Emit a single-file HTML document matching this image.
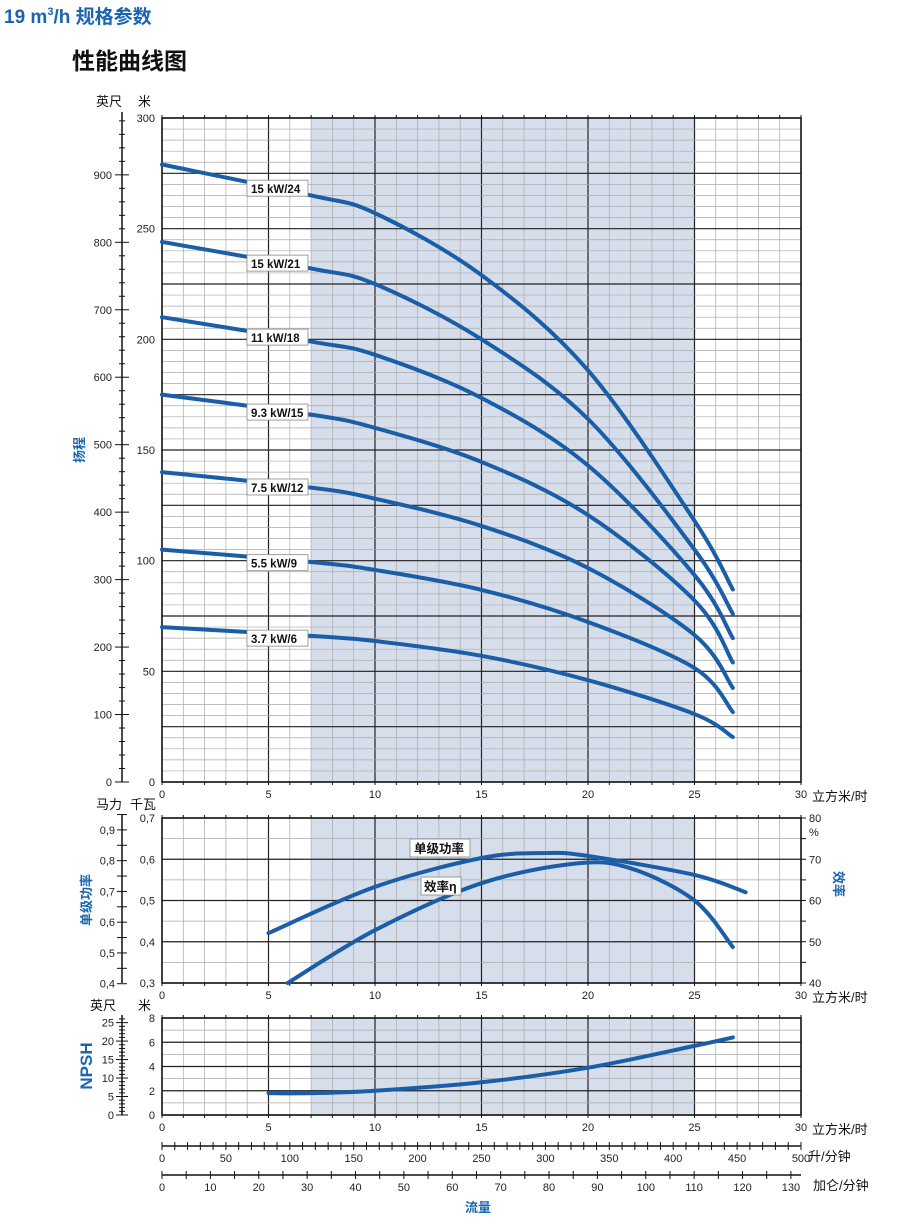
<!DOCTYPE html>
<html><head><meta charset="utf-8">
<style>
body{margin:0;background:#fff;}
svg{display:block;font-family:"Liberation Sans","Noto Sans CJK SC",sans-serif;}
</style></head>
<body>
<svg id="c" width="900" height="1226" viewBox="0 0 900 1226" xmlns="http://www.w3.org/2000/svg">
<text x="4" y="23" font-size="19" font-weight="bold" fill="#1a64b0">19 m<tspan font-size="11" dy="-8">3</tspan><tspan dy="8">/h 规格参数</tspan></text>
<text x="72" y="69" font-size="23" font-weight="bold" fill="#111">性能曲线图</text>
<g id="g"></g>
</svg>
<script>
// ---- data ----
const flowPts = [0, 7, 10, 15, 20, 25, 26.8];
const headLabels = ["15 kW/24","15 kW/21","11 kW/18","9.3 kW/15","7.5 kW/12","5.5 kW/9","3.7 kW/6"];
const head24 = [279, 265, 257, 229, 186, 118, 87];
const head21 = [244, 232, 225, 200, 164, 105, 76];
const head18 = [210, 199, 193, 173.5, 143, 93.5, 65];
const head15 = [175, 166, 160, 144.6, 120.6, 82, 54];
const head12 = [140, 133, 128, 115.7, 96.7, 66.4, 42.5];
const head9 = [105, 99.4, 95.8, 86.8, 72.3, 51.5, 31.6];
const head6 = [70, 66, 63.7, 57, 46, 30.7, 20.3];
const powerFlow = [5, 10, 15, 18, 20, 25, 27.4];
const powerKw = [0.421, 0.533, 0.603, 0.615, 0.608, 0.562, 0.52];
const effFlow = [5.9, 10, 15, 19.5, 22, 25, 26.8];
const effPct = [40, 52.8, 64.2, 69, 67.8, 60, 48.7];
const npshFlow = [5, 7, 10, 15, 20, 25, 26.8];
const npshM = [1.8, 1.8, 2.0, 2.7, 3.9, 5.7, 6.4];
const xTicks = [0,5,10,15,20,25,30];
const headTicks = [0,50,100,150,200,250,300];
const ftTicks = [0,100,200,300,400,500,600,700,800,900];
const kwTicks = ["0,3","0,4","0,5","0,6","0,7"];
const hpTicks = ["0,4","0,5","0,6","0,7","0,8","0,9"];
const effTicks = [40,50,60,70,80];
const npshTicks = [0,2,4,6,8];
const npshFtTicks = [0,5,10,15,20,25];
const lpmTicks = [0,50,100,150,200,250,300,350,400,450,500];
const gpmTicks = [0,10,20,30,40,50,60,70,80,90,100,110,120,130];

// ---- helpers ----
const NS="http://www.w3.org/2000/svg";
const G=document.getElementById('g');
function el(t,a,p){const e=document.createElementNS(NS,t);for(const k in a)e.setAttribute(k,a[k]);(p||G).appendChild(e);return e;}
function txt(x,y,s,a){const e=el('text',Object.assign({x:x,y:y,'font-size':11,fill:'#222'},a||{}));e.textContent=s;return e;}
const X0=162,X1=801;
const sx=v=>X0+(v/30)*(X1-X0);
function smooth(pts){let d='M'+pts[0][0]+','+pts[0][1];
 for(let i=0;i<pts.length-1;i++){const p0=pts[i-1]||pts[i],p1=pts[i],p2=pts[i+1],p3=pts[i+2]||p2;
  d+=' C'+(p1[0]+(p2[0]-p0[0])/6)+','+(p1[1]+(p2[1]-p0[1])/6)+' '+(p2[0]-(p3[0]-p1[0])/6)+','+(p2[1]-(p3[1]-p1[1])/6)+' '+p2[0]+','+p2[1];}
 return d;}
function curve(xs,ys,sy,name){const p=el('path',{d:smooth(xs.map((v,i)=>[sx(v),sy(ys[i])])),fill:'none',stroke:'#1a5ea8','stroke-width':4,'stroke-linecap':'round'});
 return p;}
function panel(yTop,yBot,minorVals,majorVals,sy,name){
 const g=el('g',{});
 el('rect',{x:sx(7),y:yTop,width:sx(25)-sx(7),height:yBot-yTop,fill:'#d6deeb'},g);
 for(let v=0;v<=30;v++){const maj=v%5==0;el('line',{x1:sx(v),x2:sx(v),y1:yTop,y2:yBot,stroke:maj?'#222':'#aaa','stroke-width':maj?1.2:0.7},g);}
 minorVals.forEach(v=>el('line',{x1:X0,x2:X1,y1:sy(v),y2:sy(v),stroke:'#aaa','stroke-width':0.7},g));
 majorVals.forEach(v=>el('line',{x1:X0,x2:X1,y1:sy(v),y2:sy(v),stroke:'#222','stroke-width':1.2},g));
 el('rect',{x:X0,y:yTop,width:X1-X0,height:yBot-yTop,fill:'none',stroke:'#111','stroke-width':1.5},g);
 for(let v=0;v<=30;v++){el('line',{x1:sx(v),x2:sx(v),y1:yTop-3,y2:yTop,stroke:'#111'},g);el('line',{x1:sx(v),x2:sx(v),y1:yBot,y2:yBot+3,stroke:'#111'},g);}
 xTicks.forEach(v=>{const t=txt(sx(v),yBot+16,String(v),{'text-anchor':'middle'});});
 const u=txt(812,yBot+19,'立方米/时',{'font-size':13,fill:'#111'});
 return g;}
function range(a,b,s){const r=[];for(let v=a;v<=b+1e-9;v+=s)r.push(+v.toFixed(4));return r;}

// ---- head panel ----
const hy=v=>782-(v/300)*(782-118);
panel(118,782,range(0,300,5),range(0,300,25),hy,'head-panel');
headTicks.forEach(v=>txt(155,hy(v)+4,String(v),{'text-anchor':'end'}));
el('line',{x1:122,x2:122,y1:112,y2:782,stroke:'#111','stroke-width':1.5});
for(let f=0;f<=980;f+=20){const y=hy(f*0.3048);el('line',{x1:f%100==0?115:119,x2:f%100==0?129:125,y1:y,y2:y,stroke:'#111'});}
ftTicks.forEach(f=>txt(112,hy(f*0.3048)+4,String(f),{'text-anchor':'end'}));
txt(96,106,'英尺',{'font-size':13,fill:'#111'});txt(138,106,'米',{'font-size':13,fill:'#111'});
const heads=[head24,head21,head18,head15,head12,head9,head6];
heads.forEach((h,i)=>{curve(flowPts,h,hy,'head-curve-'+i);
 const yy=hy(h[0]+(h[1]-h[0])*(4/7))+8;
 const r=el('rect',{x:247,y:yy-10,width:61,height:16,fill:'#fff',stroke:'#888','stroke-width':0.8});
 
 const t=txt(251,yy+3,headLabels[i],{'font-size':11.5,'font-weight':'bold',fill:'#111'});
 });
txt(84,450,'扬程',{'font-size':13,'font-weight':'bold',fill:'#1a64b0',transform:'rotate(-90 84 450)','text-anchor':'middle'});

// ---- power / efficiency panel ----
const py=v=>983-((v-0.3)/0.4)*(983-818);
const ey=v=>983-((v-40)/40)*(983-818);
panel(818,983,range(0.3,0.7,0.05),range(0.3,0.7,0.1),py,'power-panel');
kwTicks.forEach((s,i)=>txt(155,py(0.3+i*0.1)+4,s,{'text-anchor':'end'}));
el('line',{x1:122,x2:122,y1:815,y2:983,stroke:'#111','stroke-width':1.5});
for(let h=0.4;h<=0.951;h+=0.05){const y=py(h*0.7457);el('line',{x1:117,x2:127,y1:y,y2:y,stroke:'#111'});}
hpTicks.forEach((s,i)=>txt(115,py((0.4+i*0.1)*0.7457)+4,s,{'text-anchor':'end'}));
txt(96,809,'马力',{'font-size':13,fill:'#111'});txt(130,809,'千瓦',{'font-size':13,fill:'#111'});
for(let e=40;e<=80;e+=5)el('line',{x1:801,x2:806,y1:ey(e),y2:ey(e),stroke:'#111'});
effTicks.forEach(v=>txt(809,ey(v)+4,String(v),{}));
txt(809,836,'%',{});
txt(834,884,'效率',{'font-size':13,'font-weight':'bold',fill:'#1a64b0',transform:'rotate(90 834 884)','text-anchor':'middle'});
txt(91,900,'单级功率',{'font-size':13,'font-weight':'bold',fill:'#1a64b0',transform:'rotate(-90 91 900)','text-anchor':'middle'});
curve(powerFlow,powerKw,py,'power-curve');
curve(effFlow,effPct,ey,'efficiency-curve');
el('rect',{x:410,y:839,width:60,height:18,fill:'#fff',stroke:'#888','stroke-width':0.8});
txt(414,853,'单级功率',{'font-size':12.5,'font-weight':'bold',fill:'#111'});
el('rect',{x:421,y:877,width:40,height:18,fill:'#fff',stroke:'#888','stroke-width':0.8});
txt(424,891,'效率η',{'font-size':12.5,'font-weight':'bold',fill:'#111'});

// ---- NPSH panel ----
const ny=v=>1115-(v/8)*(1115-1018);
panel(1018,1115,range(0,8,1),range(0,8,2),ny,'npsh-panel');
npshTicks.forEach(v=>txt(155,ny(v)+4,String(v),{'text-anchor':'end'}));
el('line',{x1:122,x2:122,y1:1015,y2:1115,stroke:'#111','stroke-width':1.5});
for(let f=0;f<=26;f++){const y=ny(f*0.3048);el('line',{x1:f%5==0?116:119,x2:f%5==0?128:125,y1:y,y2:y,stroke:'#111'});}
npshFtTicks.forEach(f=>txt(114,ny(f*0.3048)+4,String(f),{'text-anchor':'end'}));
txt(90,1010,'英尺',{'font-size':13,fill:'#111'});txt(138,1010,'米',{'font-size':13,fill:'#111'});
txt(92,1066,'NPSH',{'font-size':17,'font-weight':'bold',fill:'#1a64b0',transform:'rotate(-90 92 1066)','text-anchor':'middle'});
curve(npshFlow,npshM,ny,'npsh-curve');

// ---- secondary flow axes ----
const lx=v=>X0+(v/500)*(X1-X0);
el('line',{x1:X0,x2:X1,y1:1146,y2:1146,stroke:'#111','stroke-width':1.5});
for(let v=0;v<=500;v+=10)el('line',{x1:lx(v),x2:lx(v),y1:1142,y2:1150,stroke:'#111'});
lpmTicks.forEach(v=>txt(lx(v),1162,String(v),{'text-anchor':'middle'}));
txt(808,1161,'升/分钟',{'font-size':13,fill:'#111'});
const gx=v=>X0+(v*0.22712/30)*(X1-X0);
el('line',{x1:X0,x2:X1,y1:1175,y2:1175,stroke:'#111','stroke-width':1.5});
for(let v=0;v<=132;v+=5)el('line',{x1:gx(v),x2:gx(v),y1:1171,y2:1179,stroke:'#111'});
gpmTicks.forEach(v=>txt(gx(v),1191,String(v),{'text-anchor':'middle'}));
txt(813,1190,'加仑/分钟',{'font-size':13,fill:'#111'});
txt(478,1212,'流量',{'font-size':13,'font-weight':'bold',fill:'#1a64b0','text-anchor':'middle'});
</script>
</body></html>
